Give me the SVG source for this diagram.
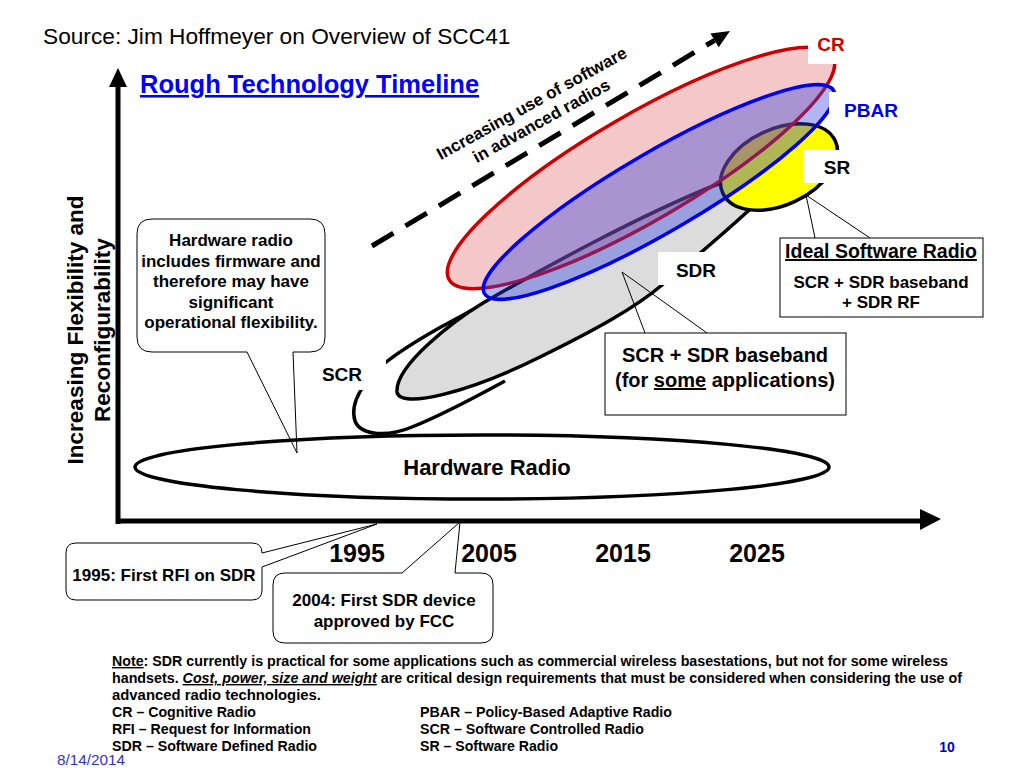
<svg xmlns="http://www.w3.org/2000/svg" width="1024" height="768" viewBox="0 0 1024 768">
<style>
text{font-family:"Liberation Sans",Arial,sans-serif}
.b{font-weight:bold}
.ol{stroke:#000;stroke-width:3.5}
.thin{fill:none;stroke:#000;stroke-width:1}
.box{fill:#fff;stroke:#000;stroke-width:1}
.note{font-size:14px;font-weight:bold;fill:#000}
.lbl{font-size:19px;font-weight:bold;text-anchor:middle}
.yr{font-size:25px;font-weight:bold;text-anchor:middle}
.co{font-size:17px;font-weight:bold;text-anchor:middle}
</style>
<rect width="1024" height="768" fill="#fff"/>
<g id="title">
<text x="43" y="44" font-size="22.7">Source: Jim Hoffmeyer on Overview of SCC41</text>
<text x="140" y="93" font-size="25.5" class="b" fill="#0000ff" text-decoration="underline">Rough Technology Timeline</text>
</g>
<g id="axes">
<line x1="118" y1="524" x2="118" y2="84" stroke="#000" stroke-width="5"/>
<polygon points="118,68 109,87 127,87" fill="#000"/>
<line x1="116" y1="521" x2="922" y2="521" stroke="#000" stroke-width="5"/>
<polygon points="941,519 920,509 920,530" fill="#000"/>
<text transform="translate(83,330) rotate(-90)" font-size="22.5" class="b" text-anchor="middle">Increasing Flexibility and</text>
<text transform="translate(110,330) rotate(-90)" font-size="22.5" class="b" text-anchor="middle">Reconfigurability</text>
</g>
<g id="years">
<text x="357" y="562" class="yr">1995</text>
<text x="489" y="562" class="yr">2005</text>
<text x="623" y="562" class="yr">2015</text>
<text x="757" y="562" class="yr">2025</text>
</g>
<g id="trend">
<line x1="372" y1="246" x2="714.6" y2="40.3" stroke="#000" stroke-width="5" stroke-dasharray="25 14"/>
<polygon points="730,31 718.7,47.2 710.5,33.4" fill="#000"/>
<g transform="translate(532,104) rotate(-29)">
<text x="0" y="5" font-size="17" class="b" text-anchor="middle">Increasing use of software</text>
<text x="0" y="25" font-size="17" class="b" text-anchor="middle">in advanced radios</text>
</g>
</g>
<g id="hardware-radio">
<ellipse cx="482" cy="467" rx="347" ry="32" fill="#fff" class="ol"/>
<text x="487" y="475" font-size="22" class="b" text-anchor="middle">Hardware Radio</text>
</g>
<g id="hardware-callout">
<path d="M152,219 H310 Q325,219 325,234 V337 Q325,352 310,352 H293 L297,453 L247,352 H152 Q137,352 137,337 V234 Q137,219 152,219 Z" class="thin"/>
<text class="co"><tspan x="231" y="246">Hardware radio</tspan><tspan x="231" y="266.5">includes firmware and</tspan><tspan x="231" y="287">therefore may have</tspan><tspan x="231" y="307.5">significant</tspan><tspan x="231" y="328">operational flexibility.</tspan></text>
</g>
<g id="scr">
<path d="M505,294 C462,314 410,343 385,363 C365,380 349,402 355,421 C361,436 388,437 412,427 C440,416 472,399 505,381" fill="none" class="ol"/>
</g>
<g id="sdr">
<path d="M397,392 C400,410 470,392 540,357 C595,330 635,308 662,285 C690,262 725,232 747,212 C765,196 788,180 781,175 C772,169 745,174 718,184 C640,215 540,270 483,303 C455,320 395,365 397,392 Z" fill="#dcdcdc" class="ol"/>
</g>
<g id="sr">
<ellipse cx="779" cy="167" rx="62" ry="38" transform="rotate(-25 779 167)" fill="#ffff00" class="ol"/>
</g>
<g id="cr">
<ellipse cx="641" cy="168" rx="222" ry="53" transform="rotate(-30.2 641 168)" fill="#e06060" fill-opacity="0.35" stroke="#cc0000" stroke-width="3.5"/>
</g>
<g id="pbar">
<ellipse cx="659" cy="192" rx="202" ry="40" transform="rotate(-30.2 659 192)" fill="#3040e0" fill-opacity="0.38" stroke="#0000ee" stroke-width="3.5"/>
</g>
<g id="labels">
<rect x="808" y="28" width="50" height="36" fill="#fff"/>
<text x="831" y="51" class="lbl" fill="#cc0000">CR</text>
<rect x="829" y="92" width="76" height="33" fill="#fff"/>
<text x="871" y="117" class="lbl" fill="#0000ee">PBAR</text>
<rect x="803" y="150" width="55" height="33" fill="#fff"/>
<text x="837" y="174" class="lbl">SR</text>
<rect x="658" y="252" width="77" height="33" fill="#fff"/>
<text x="696" y="277" class="lbl">SDR</text>
<rect x="312" y="355" width="74" height="35" fill="#fff"/>
<text x="342" y="381" class="lbl">SCR</text>
</g>
<g id="connectors">
<polyline points="815,238 806,195 870,238" class="thin"/>
<polyline points="645,333 622,272 707,333" class="thin"/>
</g>
<g id="ideal-box">
<rect x="780" y="238" width="203" height="79" class="box"/>
<text x="881" y="258" font-size="19.5" class="b" text-anchor="middle" text-decoration="underline">Ideal Software Radio</text>
<text x="881" y="288" font-size="17" class="b" text-anchor="middle">SCR + SDR baseband</text>
<text x="881" y="308" font-size="17" class="b" text-anchor="middle">+ SDR RF</text>
</g>
<g id="baseband-box">
<rect x="605" y="333" width="241" height="82" class="box"/>
<text x="725" y="362" font-size="20" class="b" text-anchor="middle">SCR + SDR baseband</text>
<text x="725" y="387" font-size="20" class="b" text-anchor="middle">(for <tspan text-decoration="underline">some</tspan> applications)</text>
</g>
<g id="rfi-callout">
<path d="M76,543 H252 Q262,543 262,553 L377,524 L262,567 V590 Q262,600 252,600 H76 Q66,600 66,590 V553 Q66,543 76,543 Z" class="box"/>
<text x="164" y="581" class="co">1995: First RFI on SDR</text>
</g>
<g id="fcc-callout">
<path d="M285,573 H402 L460,522 L455,573 H481 Q493,573 493,585 V631 Q493,643 481,643 H285 Q273,643 273,631 V585 Q273,573 285,573 Z" class="box"/>
<text x="384" y="606" class="co">2004: First SDR device</text>
<text x="384" y="627" class="co">approved by FCC</text>
</g>
<g id="note">
<text x="112" y="666" class="note" textLength="836" lengthAdjust="spacingAndGlyphs"><tspan text-decoration="underline">Note</tspan>:  SDR currently is practical for some applications such as commercial wireless basestations, but not for some wireless</text>
<text x="112" y="683" class="note" textLength="850" lengthAdjust="spacingAndGlyphs">handsets.  <tspan font-style="italic" text-decoration="underline">Cost, power, size and weight</tspan> are critical design requirements that must be considered when considering the use of</text>
<text x="112" y="700" class="note" textLength="209" lengthAdjust="spacingAndGlyphs">advanced radio technologies.</text>
<text x="112" y="717" class="note" textLength="144" lengthAdjust="spacingAndGlyphs">CR – Cognitive Radio</text>
<text x="112" y="734" class="note" textLength="199" lengthAdjust="spacingAndGlyphs">RFI – Request for Information</text>
<text x="112" y="751" class="note" textLength="205" lengthAdjust="spacingAndGlyphs">SDR – Software Defined Radio</text>
<text x="420" y="717" class="note" textLength="252" lengthAdjust="spacingAndGlyphs">PBAR – Policy-Based Adaptive Radio</text>
<text x="420" y="734" class="note" textLength="224" lengthAdjust="spacingAndGlyphs">SCR – Software Controlled Radio</text>
<text x="420" y="751" class="note" textLength="138" lengthAdjust="spacingAndGlyphs">SR – Software Radio</text>
</g>
<g id="footer">
<text x="57" y="765" font-size="15" fill="#3333cc" textLength="68" lengthAdjust="spacingAndGlyphs">8/14/2014</text>
<text x="947" y="752" font-size="14" class="b" fill="#0000cc" text-anchor="middle">10</text>
</g>
</svg>
